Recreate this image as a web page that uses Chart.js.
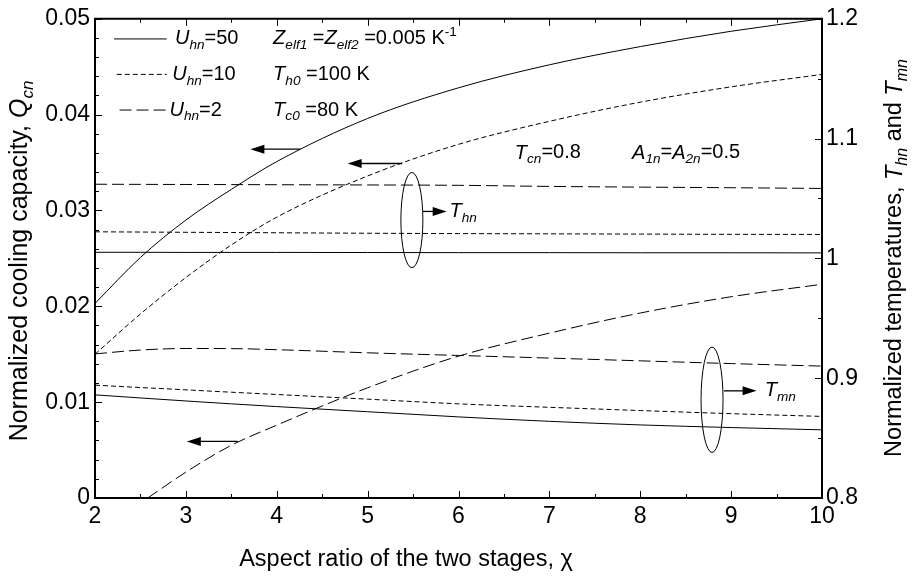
<!DOCTYPE html>
<html>
<head>
<meta charset="utf-8">
<script src="https://cdn.jsdelivr.net/npm/chart.js@4.4.0/dist/chart.umd.min.js"></script>
<style>
  html, body { margin: 0; padding: 0; background: #fff; }
  #wrap { width: 912px; height: 579px; position: relative; }
</style>
</head>
<body>
<div id="wrap"><canvas id="kurva"></canvas></div>
<script>
// Data
const chi = [2, 2.5, 3, 3.5, 4, 5, 6, 7, 8, 9, 10];
const chiU2 = [2.58, 3, 3.5, 4, 4.5, 5, 6, 7, 8, 9, 10];

// Q_cn (sumbu kiri)
const qcnU50 = [0.0203, 0.0251, 0.0290, 0.0322, 0.0351, 0.0396, 0.0428, 0.0452, 0.0471, 0.0487, 0.0500];
const qcnU10 = [0.0150, 0.0192, 0.0230, 0.0264, 0.0293, 0.0336, 0.0369, 0.0393, 0.0413, 0.0429, 0.0442];
const qcnU2  = [0.0000, 0.0027, 0.0055, 0.0076, 0.0096, 0.0115, 0.0148, 0.0172, 0.0193, 0.0210, 0.0223];

// T_hn dan T_mn (sumbu kanan)
const thnU50 = [1.0051, 1.0051, 1.0050, 1.0050, 1.0050, 1.0049, 1.0048, 1.0048, 1.0047, 1.0047, 1.0046];
const thnU10 = [1.0222, 1.0220, 1.0218, 1.0216, 1.0214, 1.0210, 1.0207, 1.0205, 1.0203, 1.0201, 1.0200];
const thnU2  = [1.0619, 1.0618, 1.0617, 1.0616, 1.0615, 1.0613, 1.0610, 1.0601, 1.0595, 1.0590, 1.0584];
const tmnU50 = [0.8861, 0.8835, 0.8810, 0.8786, 0.8763, 0.8720, 0.8677, 0.8640, 0.8610, 0.8588, 0.8569];
const tmnU10 = [0.8942, 0.8922, 0.8903, 0.8883, 0.8864, 0.8825, 0.8786, 0.8757, 0.8730, 0.8704, 0.8681];
const tmnU2  = [0.9203, 0.9235, 0.9248, 0.9247, 0.9238, 0.9212, 0.9190, 0.9168, 0.9145, 0.9122, 0.9101];

const FONT = "'Liberation Sans', Arial, sans-serif";
const SOLID = [], SHORT = [5, 3], LONG = [12, 5];

function pts(xs, ys) {
    return xs.map((x, i) => ({ x: x, y: ys[i] }));
}

function seri(xs, ys, dash, axis) {
    return {
        data: pts(xs, ys),
        yAxisID: axis,
        borderColor: '#000',
        borderWidth: 1,
        borderDash: dash,
        pointRadius: 0,
        fill: false,
        cubicInterpolationMode: 'monotone'
    };
}

// Teks dengan subscript / superscript
function fontOf(seg, size) {
    const s = (seg.sub || seg.sup) ? size * 0.68 : size;
    return (seg.it ? 'italic ' : '') + s + 'px ' + FONT;
}
function richWidth(ctx, segs, size) {
    let w = 0;
    segs.forEach(seg => { ctx.font = fontOf(seg, size); w += ctx.measureText(seg.t).width; });
    return w;
}
function drawRich(ctx, segs, x, y, size, align) {
    let cx = x;
    if (align === 'center') cx = x - richWidth(ctx, segs, size) / 2;
    ctx.textBaseline = 'middle';
    ctx.textAlign = 'left';
    segs.forEach(seg => {
        ctx.font = fontOf(seg, size);
        let dy = 0;
        if (seg.sub) dy = size * 0.32;
        if (seg.sup) dy = -size * 0.32;
        ctx.fillText(seg.t, cx, y + dy);
        cx += ctx.measureText(seg.t).width;
    });
}

function panah(ctx, x1, x2, y) {
    const dir = x2 > x1 ? 1 : -1;
    ctx.lineWidth = 1.3;
    ctx.setLineDash([]);
    ctx.beginPath();
    ctx.moveTo(x1, y);
    ctx.lineTo(x2 - dir * 10, y);
    ctx.stroke();
    ctx.beginPath();
    ctx.moveTo(x2, y);
    ctx.lineTo(x2 - dir * 14, y - 4.5);
    ctx.lineTo(x2 - dir * 14, y + 4.5);
    ctx.closePath();
    ctx.fill();
}

const hiasan = {
    id: 'hiasan',
    afterDraw(chart) {
        const ctx = chart.ctx;
        const a = chart.chartArea;
        const sx = chart.scales.x, sq = chart.scales.yQ, st = chart.scales.yT;
        ctx.save();
        ctx.strokeStyle = '#000';
        ctx.fillStyle = '#000';

        // bingkai atas
        ctx.lineWidth = 2;
        ctx.beginPath();
        ctx.moveTo(a.left - 1, a.top);
        ctx.lineTo(a.right + 1, a.top);
        ctx.stroke();

        // tick ke dalam
        ctx.lineWidth = 1;
        ctx.beginPath();
        for (let i = 0; i <= 16; i++) {
            const v = 2 + i * 0.5;
            const px = Math.round(sx.getPixelForValue(v)) + 0.5;
            const len = i % 2 === 0 ? 7 : 4;
            ctx.moveTo(px, a.bottom); ctx.lineTo(px, a.bottom - len);
            ctx.moveTo(px, a.top); ctx.lineTo(px, a.top + len);
        }
        for (let i = 0; i <= 25; i++) {
            const py = Math.round(sq.getPixelForValue(i * 0.002)) + 0.5;
            const len = i % 5 === 0 ? 7 : 4;
            ctx.moveTo(a.left, py); ctx.lineTo(a.left + len, py);
        }
        for (let i = 0; i <= 8; i++) {
            const py = Math.round(st.getPixelForValue(0.8 + i * 0.05)) + 0.5;
            const len = i % 2 === 0 ? 7 : 4;
            ctx.moveTo(a.right, py); ctx.lineTo(a.right - len, py);
        }
        ctx.stroke();

        const X = v => sx.getPixelForValue(v);
        const Q = v => sq.getPixelForValue(v);
        const FS = 20;

        // legenda
        const leg = [
            { dash: SOLID, y: 0.0479, x0: 2.21, x1: 2.79, tx: 2.88, segs: [{ t: 'U', it: 1 }, { t: 'hn', it: 1, sub: 1 }, { t: '=50' }] },
            { dash: SHORT, y: 0.0442, x0: 2.24, x1: 2.79, tx: 2.85, segs: [{ t: 'U', it: 1 }, { t: 'hn', it: 1, sub: 1 }, { t: '=10' }] },
            { dash: LONG, y: 0.04048, x0: 2.27, x1: 2.81, tx: 2.82, segs: [{ t: 'U', it: 1 }, { t: 'hn', it: 1, sub: 1 }, { t: '=2' }] }
        ];
        leg.forEach(l => {
            ctx.lineWidth = 1;
            ctx.setLineDash(l.dash);
            ctx.beginPath();
            ctx.moveTo(X(l.x0), Q(l.y));
            ctx.lineTo(X(l.x1), Q(l.y));
            ctx.stroke();
            ctx.setLineDash([]);
            drawRich(ctx, l.segs, X(l.tx), Q(l.y), FS, 'left');
        });
        drawRich(ctx, [{ t: 'Z', it: 1 }, { t: 'elf1', it: 1, sub: 1 }, { t: ' =' }, { t: 'Z', it: 1 }, { t: 'elf2', it: 1, sub: 1 }, { t: ' =0.005 K' }, { t: '-1', sup: 1 }], X(3.96), Q(0.0479), FS, 'left');
        drawRich(ctx, [{ t: 'T', it: 1 }, { t: 'h0', it: 1, sub: 1 }, { t: ' =100 K' }], X(3.96), Q(0.0442), FS, 'left');
        drawRich(ctx, [{ t: 'T', it: 1 }, { t: 'c0', it: 1, sub: 1 }, { t: ' =80 K' }], X(3.96), Q(0.04048), FS, 'left');
        drawRich(ctx, [{ t: 'T', it: 1 }, { t: 'cn', it: 1, sub: 1 }, { t: '=0.8' }], X(6.62), Q(0.0360), FS, 'left');
        drawRich(ctx, [{ t: 'A', it: 1 }, { t: '1n', it: 1, sub: 1 }, { t: '=' }, { t: 'A', it: 1 }, { t: '2n', it: 1, sub: 1 }, { t: '=0.5' }], X(7.91), Q(0.0360), FS, 'left');

        // panah ke sumbu kiri
        panah(ctx, X(4.26), X(3.71), Q(0.0364));
        panah(ctx, X(5.38), X(4.78), Q(0.0349));
        panah(ctx, X(3.57), X(3.01), Q(0.0059));

        // elips T_hn dan T_mn
        ctx.lineWidth = 1;
        const elips = [
            { cx: 5.487, cy: 0.0290, ry: 0.00497 },
            { cx: 8.79, cy: 0.01025, ry: 0.0055 }
        ];
        elips.forEach(e => {
            const px = X(e.cx), py = Q(e.cy);
            ctx.beginPath();
            ctx.ellipse(px, py, X(e.cx + 0.121) - px, py - Q(e.cy + e.ry), 0, 0, Math.PI * 2);
            ctx.stroke();
        });
        panah(ctx, X(5.61), X(5.87), Q(0.0299));
        drawRich(ctx, [{ t: 'T', it: 1 }, { t: 'hn', it: 1, sub: 1 }], X(5.9), Q(0.0299), FS, 'left');
        panah(ctx, X(8.92), X(9.28), Q(0.01118));
        drawRich(ctx, [{ t: 'T', it: 1 }, { t: 'mn', it: 1, sub: 1 }], X(9.37), Q(0.01118), FS, 'left');

        // judul sumbu
        const TS = 23.5;
        drawRich(ctx, [{ t: 'Aspect ratio of the two stages, ' }, { t: 'χ' }], 406, 560, TS, 'center');
        ctx.translate(20, 261);
        ctx.rotate(-Math.PI / 2);
        drawRich(ctx, [{ t: 'Normalized cooling capacity, ' }, { t: 'Q', it: 1 }, { t: 'cn', it: 1, sub: 1 }], 0, 0, 25, 'center');
        ctx.setTransform(1, 0, 0, 1, 0, 0);
        ctx.translate(895, 258);
        ctx.rotate(-Math.PI / 2);
        drawRich(ctx, [{ t: 'Normalized temperatures, ' }, { t: 'T', it: 1 }, { t: 'hn', it: 1, sub: 1 }, { t: ' and ' }, { t: 'T', it: 1 }, { t: 'mn', it: 1, sub: 1 }], 0, 0, TS, 'center');
        ctx.restore();
    }
};

const tickFont = { size: 23, family: FONT };
const fmt = v => String(Number(v.toFixed(3)));

new Chart(document.getElementById('kurva'), {
    type: 'line',
    data: {
        datasets: [
            seri(chi, qcnU50, SOLID, 'yQ'),
            seri(chi, qcnU10, SHORT, 'yQ'),
            seri(chiU2, qcnU2, LONG, 'yQ'),
            seri(chi, thnU50, SOLID, 'yT'),
            seri(chi, thnU10, SHORT, 'yT'),
            seri(chi, thnU2, LONG, 'yT'),
            seri(chi, tmnU50, SOLID, 'yT'),
            seri(chi, tmnU10, SHORT, 'yT'),
            seri(chi, tmnU2, LONG, 'yT')
        ]
    },
    options: {
        responsive: true,
        maintainAspectRatio: false,
        animation: false,
        layout: { padding: { top: 15, left: 0, right: 0, bottom: 0 } },
        plugins: { legend: { display: false }, tooltip: { enabled: false } },
        scales: {
            x: {
                type: 'linear', position: 'bottom', min: 2, max: 10,
                ticks: { stepSize: 1, color: '#000', font: tickFont, padding: 5, maxRotation: 0, callback: fmt },
                grid: { display: false, drawTicks: false },
                border: { display: true, color: '#000', width: 2 },
                afterFit: s => { s.height = 81; }
            },
            yQ: {
                type: 'linear', position: 'left', min: 0, max: 0.05,
                ticks: { stepSize: 0.01, color: '#000', font: tickFont, padding: 5, callback: fmt },
                grid: { display: false, drawTicks: false },
                border: { display: true, color: '#000', width: 2 },
                afterFit: s => { s.width = 95; }
            },
            yT: {
                type: 'linear', position: 'right', min: 0.8, max: 1.2,
                ticks: { stepSize: 0.1, color: '#000', font: tickFont, padding: 4, callback: fmt },
                grid: { display: false, drawTicks: false },
                border: { display: true, color: '#000', width: 2 },
                afterFit: s => { s.width = 90; }
            }
        }
    },
    plugins: [hiasan]
});
</script>
</body>
</html>
